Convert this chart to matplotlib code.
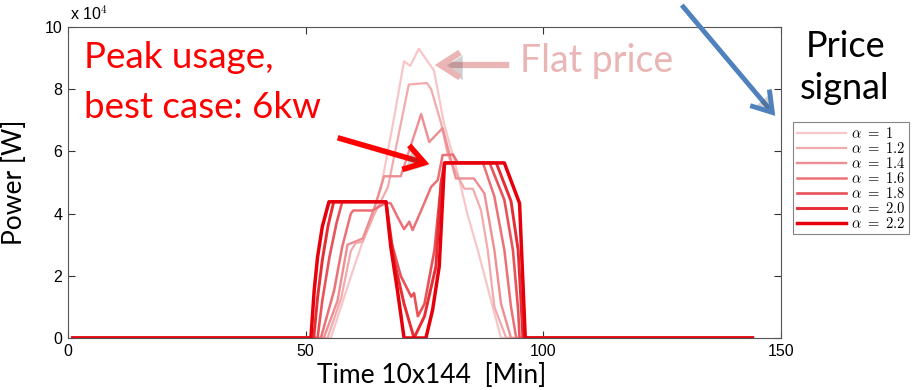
import matplotlib
matplotlib.use('Agg')
import matplotlib.pyplot as plt
from matplotlib.patches import FancyArrowPatch
import matplotlib.patheffects as pe

W, H = 924, 390

# power profiles (in 10^4 W) for each price exponent, as (time, power) breakpoints
alphas = ['1', '1.2', '1.4', '1.6', '1.8', '2.0', '2.2']

t_a10 = [1, 55.3, 60, 65.8, 68.5, 70.7, 72, 73.8, 77, 79.1, 82, 84, 86.2, 89.7, 91.1, 144]
p_a10 = [0, 0, 2.2, 4.8, 7.0, 8.9, 8.75, 9.3, 8.6, 6.9, 5.3, 4.0, 2.83, 0.8, 0, 0]

t_a12 = [1, 54.6, 57.5, 59.5, 60.5, 62, 64.5, 67.3, 69.5, 71.7, 75.5, 76.4, 78.5, 79.9,
         82, 83.4, 85.2, 86.9, 88.3, 89.7, 92.2, 144]
p_a12 = [0, 0, 1.3, 2.8, 3.05, 3.1, 4.0, 4.85, 6.5, 8.15, 8.2, 8.0, 6.9, 5.9,
         5.2, 4.8, 4.8, 4.1, 2.83, 1.0, 0, 0]

t_a14 = [1, 53.8, 56.7, 58.8, 62, 64.5, 66.5, 70, 74.3, 76, 78.8, 81.6, 85.4, 87.6,
         89.7, 91.1, 93.2, 144]
p_a14 = [0, 0, 1.2, 3.0, 3.2, 4.2, 5.2, 5.2, 7.2, 6.3, 6.75, 5.13, 5.13, 4.65,
         2.83, 1.1, 0, 0]

t_a16 = [1, 53.2, 56, 57.7, 59.5, 60, 64, 66.9, 67.9, 69.3, 70.7, 71.8, 72.5, 74.3,
         76.4, 77.8, 78.8, 81, 82, 87.3, 89.7, 91.8, 93.2, 94.3, 144]
p_a16 = [0, 0, 1.54, 2.94, 4.0, 4.1, 4.1, 4.35, 4.33, 3.9, 3.5, 3.74, 3.47, 4.1,
         4.86, 5.08, 5.88, 5.9, 5.63, 5.63, 4.55, 2.83, 1.0, 0, 0]

t_a18 = [1, 52.5, 53.5, 55, 56.5, 57.7, 66.9, 67.9, 70, 72.2, 72.8, 73.6, 75, 77.1,
         78.5, 79.4, 88.7, 91.8, 93.6, 94.7, 95, 144]
p_a18 = [0, 0, 1.2, 2.6, 3.7, 4.38, 4.38, 3.15, 2.0, 1.33, 1.44, 0.7, 1.1, 2.83,
         5.0, 5.63, 5.63, 4.44, 2.83, 0.9, 0, 0]

t_a20 = [1, 51.7, 52.5, 53.5, 54.7, 55.9, 66.9, 68.6, 70.7, 72.8, 75, 77.4, 78.5,
         79.2, 90.1, 93.2, 94.7, 95.4, 95.7, 144]
p_a20 = [0, 0, 1.3, 2.5, 3.6, 4.38, 4.38, 2.5, 1.1, 0, 0.7, 2.3, 5.0,
         5.63, 5.63, 4.4, 2.83, 0.9, 0, 0]

t_a22 = [1, 51.1, 51.8, 52.5, 53.5, 54.9, 66.9, 67.9, 69.3, 70.7, 75.3, 76.7, 78.1,
         79.2, 91.8, 95, 96.2, 144]
p_a22 = [0, 0, 1.54, 2.6, 3.58, 4.38, 4.38, 2.94, 1.54, 0, 0, 0.9, 2.3,
         5.63, 5.63, 4.33, 0, 0]

times = [t_a10, t_a12, t_a14, t_a16, t_a18, t_a20, t_a22]
powers = [p_a10, p_a12, p_a14, p_a16, p_a18, p_a20, p_a22]

colors = ['#f7c6c8', '#f2aaad', '#ee8e92', '#eb7176', '#e8535a', '#e62d33', '#e6000b']
widths = [1.6, 1.6, 1.7, 1.8, 1.9, 2.1, 2.5]

plt.rcParams['mathtext.fontset'] = 'cm'
plt.rcParams['font.family'] = ['Liberation Sans', 'DejaVu Sans']


def fpos(x, y):
    # pixel position (from top-left) to figure fraction
    return x / W, 1 - y / H


fig = plt.figure(figsize=(W / 100, H / 100), dpi=100)
ax = fig.add_axes([68 / W, 1 - 338 / H, (781 - 68) / W, (338 - 27) / H])

lines = []
for a, t, p, c, lw in zip(alphas, times, powers, colors, widths):
    l, = ax.plot(t, p, color=c, linewidth=lw, label=r'$\alpha\ =\ %s$' % a)
    lines.append(l)

ax.set_xlim(0, 150)
ax.set_ylim(0, 10)
ax.set_xticks([0, 50, 100, 150])
ax.set_yticks([0, 2, 4, 6, 8, 10])
ax.tick_params(direction='in', length=5, width=0.8, top=True, right=True,
               labelsize=11.5, color='#333333', pad=4)
for s in ax.spines.values():
    s.set_color('#555555')
    s.set_linewidth(0.8)

ax.set_ylabel('Power [W]', fontsize=19, family=['Lato', 'DejaVu Sans'])
ax.yaxis.set_label_coords(-0.057, 0.5)
ax.set_xlabel('Time 10x144  [Min]', fontsize=19,
              family=['Liberation Sans Narrow', 'Lato', 'DejaVu Sans'])
ax.xaxis.set_label_coords(0.51, -0.08)

fig.text(*fpos(70, 20), r'x 10$^4$', fontsize=11.5, va='baseline', ha='left')

# annotations
fig.text(*fpos(84, 68), 'Peak usage,', color='#ff0000', fontsize=26.5,
         family=['Lato', 'DejaVu Sans'], va='baseline')
fig.text(*fpos(84, 118), 'best case: 6kw', color='#ff0000', fontsize=26.5,
         family=['Lato', 'DejaVu Sans'], va='baseline')
fig.text(*fpos(520, 72), 'Flat price', color='#eab5b5', fontsize=27,
         family=['Lato', 'DejaVu Sans'], va='baseline')
fig.text(*fpos(806, 57), 'Price', color='black', fontsize=26,
         family=['Lato', 'DejaVu Sans'], va='baseline')
fig.text(*fpos(800, 99), 'signal', color='black', fontsize=26,
         family=['Lato', 'DejaVu Sans'], va='baseline')

arrows = [
    ((335, 137), (432, 165), '#ff0000', 4.0),
    ((512, 65), (432, 65), '#eab5b5', 4.5),
    ((680, 3), (777, 118), '#4f81bd', 3.5),
]
for start, end, c, lw in arrows:
    arr = FancyArrowPatch(fpos(*start), fpos(*end), transform=fig.transFigure,
                          arrowstyle='->,head_length=0.7,head_width=0.45',
                          mutation_scale=20, color=c, linewidth=lw,
                          joinstyle='miter', capstyle='butt')
    arr.set_path_effects([pe.withSimplePatchShadow(offset=(2, -2), alpha=0.25)])
    fig.add_artist(arr)

leg = fig.legend(handles=lines, loc='upper left', bbox_to_anchor=fpos(793, 122),
                 fontsize=10.5, frameon=True, fancybox=False, labelspacing=0.0,
                 handlelength=3.4, handletextpad=0.3, borderpad=0.25,
                 borderaxespad=0)
leg.get_frame().set_edgecolor('#666666')
leg.get_frame().set_linewidth(0.8)

fig.savefig('out.png', dpi=100)
